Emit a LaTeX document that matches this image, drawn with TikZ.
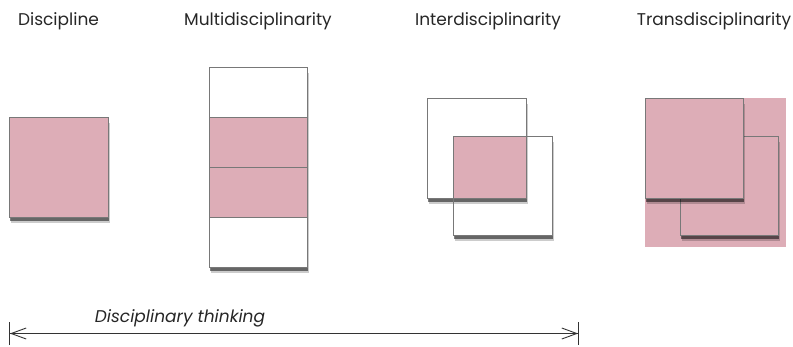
\documentclass[tikz,border=0pt]{standalone}
\usepackage{fontspec}
\setmainfont{Poppins}
\usetikzlibrary{arrows.meta,shadows}

\definecolor{rosepink}{RGB}{221,173,183}
\definecolor{edgegray}{RGB}{120,120,120}

\tikzset{
	box/.style={draw=edgegray, line width=0.5pt, inner sep=0pt, anchor=north west,
		minimum width=99pt, minimum height=100pt},
	shadebox/.style={box,
		drop shadow={shadow xshift=2pt, shadow yshift=-6pt, fill=black, opacity=0.2},
		drop shadow={shadow xshift=1pt, shadow yshift=-3.5pt, fill=black, opacity=0.5}},
	title/.style={anchor=base, inner sep=0pt, font=\fontsize{17}{20}\selectfont, text=black!85},
}

\begin{document}
\begin{tikzpicture}[x=1pt,y=1pt,yscale=-1,xscale=1]
	\useasboundingbox (0,0) rectangle (793,346);
	
	% Text Node
	\node[title] (tdisc) at (58.5,25) {Discipline};
	% Text Node
	\node[title] (tmulti) at (258,25) {Multidisciplinarity};
	% Text Node
	\node[title] (tinter) at (488,25) {Interdisciplinarity};
	% Text Node
	\node[title] (ttrans) at (714,25) {Transdisciplinarity};
	
	%Discipline
	\node[shadebox, fill=rosepink] (disc) at (9,117) {};
	
	%Multidisciplinarity
	\node[shadebox, minimum width=98pt, minimum height=200pt, fill=white] (mall) at (209,67) {};
	\node[box, minimum width=98pt, minimum height=50pt, fill=white] (m1) at (209,67) {};
	\node[box, minimum width=98pt, minimum height=50pt, fill=rosepink] (m2) at (209,117) {};
	\node[box, minimum width=98pt, minimum height=50pt, fill=rosepink] (m3) at (209,167) {};
	\node[box, minimum width=98pt, minimum height=50pt, fill=white] (m4) at (209,217) {};
	
	%Interdisciplinarity
	\node[shadebox, fill=white, minimum height=99pt] (ib) at (453,136) {};
	\node[shadebox, fill=white] (ia) at (427,98) {};
	\node[box, draw=none, fill=rosepink, minimum width=73pt, minimum height=62pt] (icap) at (453,136) {};
	\draw[edgegray, line width=0.5pt] (ib.north west) rectangle (ib.south east);
	\draw[edgegray, line width=0.5pt] (ia.north west) rectangle (ia.south east);
	
	%Transdisciplinarity
	\node[box, draw=none, fill=rosepink, minimum width=141pt, minimum height=149pt] (tall) at (645,98) {};
	\node[shadebox, fill=rosepink, minimum width=98pt, minimum height=99pt] (tb) at (680,136) {};
	\node[shadebox, fill=rosepink, minimum width=98pt] (ta) at (645,98) {};
	
	% Text Node
	\node[anchor=base, inner sep=0pt, font=\fontsize{17}{20}\selectfont\itshape, text=black!85] (think) at (180,322) {Disciplinary thinking};
	\coordinate (aleft) at (9,333.5);
	\coordinate (aright) at (579,333.5);
	\draw[line width=0.9pt, black!80,
		{Bar[width=23pt,sep=0pt]Straight Barb[length=15pt,width=11pt]}-{Straight Barb[length=15pt,width=11pt,sep=0pt]Bar[width=23pt]}]
		(aleft) -- (aright);
	
\end{tikzpicture}
\end{document}
